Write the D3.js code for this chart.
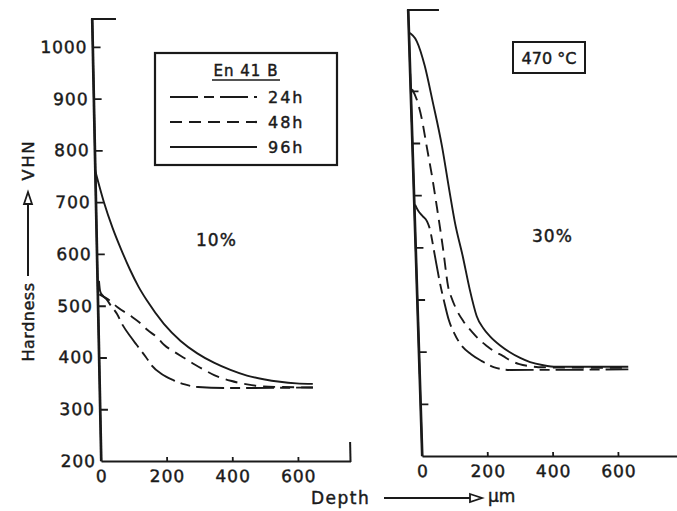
<!DOCTYPE html>
<html><head><meta charset="utf-8">
<script src="https://cdn.jsdelivr.net/npm/d3@7"></script>
<style>
html,body{margin:0;padding:0;background:#fff;}
svg text{font-family:"DejaVu Sans",sans-serif;fill:#1a1a1a;stroke:#1a1a1a;stroke-width:0.45px;}
</style></head>
<body><svg id="c" width="677" height="511"></svg>
<script>
// ---- data (depth in µm, hardness in VHN) ----
const xTicks = [0, 200, 400, 600];
const yTicksLeft = [200, 300, 400, 500, 600, 700, 800, 900, 1000];
const yTicksRight = [300, 400, 500, 600, 700, 800, 900];
const seriesNames = ["24 h", "48 h", "96 h"];
const panelLabels = ["10%", "30%"];

// 10% panel
const left24 = [[5,548],[8,528],[15,520],[27,512],[40,500],[58,484],[75,462],[98,440],[115,425],[143,401],[160,385],[190,368],[226,356],[260,348],[300,343],[400,341],[650,342]];
const left48 = [[5,522],[37,510],[60,497],[100,480],[125,468],[150,453],[180,438],[200,424],[230,411],[260,399],[290,387],[320,376],[350,366],[400,355],[450,348],[500,344],[550,343],[650,342]];
const left96 = [[0,762],[25,700],[50,650],[75,608],[100,570],[125,537],[150,510],[200,465],[250,432],[300,408],[350,390],[400,376],[450,365],[500,358],[550,353],[600,350],[650,349]];
// 30% panel
const right24 = [[3,682],[12,670],[25,660],[38,650],[46,635],[58,587],[71,534],[83,495],[95,461],[110,436],[128,415],[160,395],[192,382],[230,370],[278,365],[640,366]];
const right48 = [[5,903],[20,880],[32,846],[45,790],[58,735],[70,675],[84,600],[96,526],[106,503],[116,486],[140,458],[165,438],[190,421],[209,411],[230,401],[257,392],[280,383],[307,376],[340,372],[380,370],[640,369]];
const right96 = [[0,1012],[24,995],[46,948],[67,879],[91,794],[110,706],[123,649],[144,583],[162,520],[181,468],[200,445],[219,430],[250,412],[279,399],[310,388],[340,380],[380,374],[420,371],[500,371],[640,371]];

const styles = {"24 h":"28,6,10,6","48 h":"12,7","96 h":null};
const ink = "#1a1a1a";

const svg = d3.select("#c");

function panel(opts){
  const t = opts.tilt, yb = opts.y0px;
  const g = svg.append("g").attr("transform", `matrix(1,0,${t},1,${-t*yb},0)`);
  const x = d3.scaleLinear().domain([0, opts.xMax]).range([opts.x0px, opts.x1px]);
  const y = d3.scaleLinear().domain([200, opts.yMax]).range([yb, opts.ytop]);

  const xa = g.append("g").attr("transform", `translate(0,${yb})`)
    .call(d3.axisBottom(x).tickValues(xTicks).tickSizeInner(-4).tickSizeOuter(0).tickPadding(9));
  const ya = g.append("g").attr("transform", `translate(${x(0)},0)`)
    .call(d3.axisLeft(y).tickValues(opts.yTicks).tickSizeInner(-8).tickSizeOuter(0).tickPadding(5)
      .tickFormat(opts.yLabels ? d3.format("d") : () => ""));
  [xa, ya].forEach(a => {
    a.select(".domain").attr("stroke", ink).attr("stroke-width", 2.2);
    a.selectAll(".tick line").attr("stroke", ink).attr("stroke-width", 1.8);
    a.selectAll(".tick text").attr("font-size", 17).attr("letter-spacing", 1).attr("fill", ink);
  });
  ya.selectAll(".tick").filter(d => d === 200).select("line").remove();
  xa.selectAll(".tick").filter(d => d === 0).select("line").remove();
  g.append("line").attr("x1", x(0)).attr("x2", x(0)).attr("y1", y(200)).attr("y2", opts.ytop)
    .attr("stroke", ink).attr("stroke-width", 2.2);
  g.append("line").attr("x1", x(0) - 1).attr("x2", x(0) + opts.capW).attr("y1", opts.ytop).attr("y2", opts.ytop)
    .attr("stroke", ink).attr("stroke-width", 2);
  if (opts.rightCap) {
    g.append("line").attr("x1", x(opts.xMax)).attr("x2", x(opts.xMax)).attr("y1", yb + 1).attr("y2", yb - 19)
      .attr("stroke", ink).attr("stroke-width", 2);
  }
  const line = d3.line().x(d => x(d[0])).y(d => y(d[1])).curve(d3.curveMonotoneX);
  opts.series.forEach((s, i) => {
    g.append("path").datum(s).attr("d", line).attr("fill", "none")
      .attr("stroke", ink).attr("stroke-width", 1.9)
      .attr("stroke-dasharray", styles[seriesNames[i]]);
  });
  return {x, y, g};
}

panel({tilt: 0.0204, y0px: 461, ytop: 19, x0px: 101, x1px: 350.5, xMax: 760, yMax: 1054,
  yTicks: yTicksLeft, yLabels: true, capW: 24, rightCap: true, series: [left24, left48, left96]});
panel({tilt: 0.0315, y0px: 456, ytop: 10, x0px: 422, x1px: 676.8, xMax: 780, yMax: 1055,
  yTicks: yTicksRight, yLabels: false, capW: 31, rightCap: false, series: [right24, right48, right96]});

// legend
const lg = svg.append("g");
lg.append("rect").attr("x", 155).attr("y", 53).attr("width", 182).attr("height", 112)
  .attr("fill", "none").attr("stroke", ink).attr("stroke-width", 2.2);
lg.append("text").attr("x", 246).attr("y", 76).attr("text-anchor", "middle")
  .attr("font-size", 15).attr("letter-spacing", 1).text("En 41 B");
lg.append("line").attr("x1", 212).attr("x2", 280).attr("y1", 80).attr("y2", 80).attr("stroke", ink).attr("stroke-width", 1.5);
seriesNames.forEach((n, i) => {
  const yy = 97 + i * 25;
  lg.append("line").attr("x1", 170).attr("x2", 257).attr("y1", yy).attr("y2", yy)
    .attr("stroke", ink).attr("stroke-width", 2.2).attr("stroke-dasharray", styles[n]);
  lg.append("text").attr("x", 268).attr("y", yy + 6).attr("font-size", 16).attr("letter-spacing", 2).text(n.replace(" ", ""));
});

// panel labels
svg.append("text").attr("x", 196).attr("y", 246).attr("font-size", 17).attr("letter-spacing", 1).text(panelLabels[0]);
svg.append("text").attr("x", 532).attr("y", 242).attr("font-size", 17).attr("letter-spacing", 1).text(panelLabels[1]);
svg.append("rect").attr("x", 513).attr("y", 42).attr("width", 72).attr("height", 31)
  .attr("fill", "none").attr("stroke", ink).attr("stroke-width", 2);
svg.append("text").attr("x", 549).attr("y", 64).attr("text-anchor", "middle").attr("font-size", 16).text("470 °C");

// y axis title
const yt = svg.append("g");
yt.append("text").attr("transform", "translate(34,322) rotate(-90)").attr("text-anchor", "middle")
  .attr("font-size", 16).attr("letter-spacing", 0.5).text("Hardness");
yt.append("line").attr("x1", 28).attr("x2", 28).attr("y1", 276).attr("y2", 202).attr("stroke", ink).attr("stroke-width", 2);
yt.append("path").attr("d", "M24,204 L28,192 L32,204 Z").attr("fill", "#fff").attr("stroke", ink).attr("stroke-width", 1.8);
yt.append("text").attr("transform", "translate(34,160) rotate(-90)").attr("text-anchor", "middle")
  .attr("font-size", 16).attr("letter-spacing", 2).text("VHN");

// x axis title
const xt = svg.append("g");
xt.append("text").attr("x", 311).attr("y", 504).attr("font-size", 17).attr("letter-spacing", 1.5).text("Depth");
xt.append("line").attr("x1", 384).attr("x2", 470).attr("y1", 498).attr("y2", 498).attr("stroke", ink).attr("stroke-width", 2);
xt.append("path").attr("d", "M470,494 L482,498 L470,502 Z").attr("fill", "#fff").attr("stroke", ink).attr("stroke-width", 1.8);
xt.append("text").attr("x", 488).attr("y", 502).attr("font-size", 17).text("μm");
</script></body></html>
